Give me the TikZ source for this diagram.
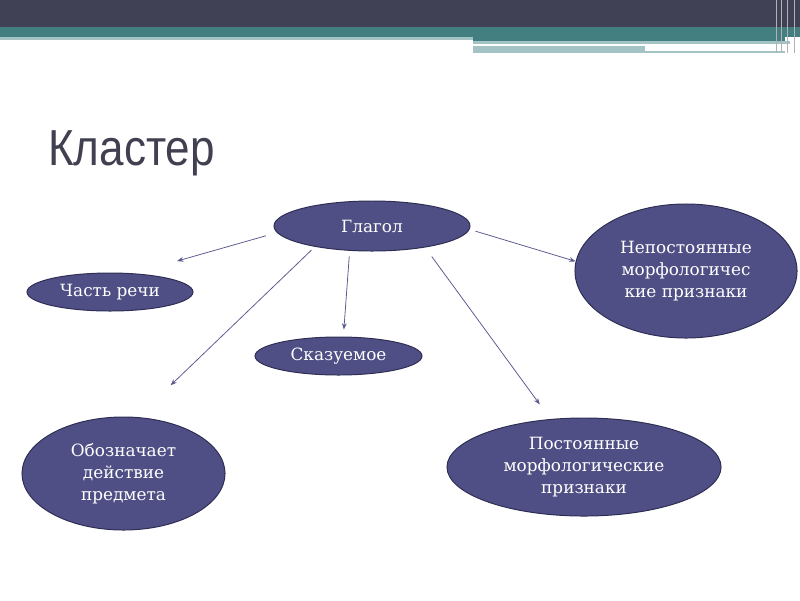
\documentclass[tikz,border=0pt]{standalone}
\usepackage{fontspec}
\setmainfont{DejaVu Serif}
\newfontfamily\titlefont{Liberation Sans}
\usepackage{graphicx}
\usepackage{tikz}
\usetikzlibrary{arrows.meta,positioning,shapes.geometric}
\definecolor{bardark}{HTML}{414155}
\definecolor{barteal}{HTML}{437E80}
\definecolor{barlight}{HTML}{A4C3C5}
\definecolor{ovalfill}{HTML}{4F4F85}
\definecolor{ovalline}{HTML}{2E2E55}
\definecolor{arrowc}{HTML}{5A5A90}
\definecolor{titlec}{HTML}{404050}

\begin{document}
\begin{tikzpicture}[
  x=0.025cm, y=-0.025cm,
  oval/.style={ellipse, draw=ovalline, line width=0.7pt, fill=ovalfill,
               text=white, inner sep=0pt, align=center,
               font=\fontsize{12}{15.6}\selectfont},
  arr/.style={-{Stealth[length=1.6mm, width=1.2mm]}, line width=0.55pt, color=arrowc}
]
\useasboundingbox (0,0) rectangle (800,600);
\fill[bardark] (0,0) rectangle (800,27);
\fill[barteal] (0,27) rectangle (800,37);
\fill[barlight] (0,37) rectangle (473,40);
\fill[barteal] (473,37) rectangle (785,41);
\fill[barlight] (473,41) rectangle (790,44);
\fill[white] (473,44) rectangle (740,46);
\fill[barlight] (473,46) rectangle (645,53);
\fill[barlight] (645,51) rectangle (785,53);
\foreach \xx in {776,781,787,794}
  \draw[gray!60, line width=0.6pt] (\xx,0) -- (\xx,53);

\node[anchor=base west, inner sep=0pt, text=titlec,
      font=\titlefont\fontsize{36}{40}\selectfont] (title) at (48,165)
  {\scalebox{0.87}[1]{Кластер}};

\node[oval, minimum width=4.9cm, minimum height=1.25cm] (glagol) at (372,226) {Глагол};
\node[oval, minimum width=4.15cm, minimum height=0.95cm] (chast) at (110,292) {Часть речи};
\node[oval, minimum width=4.175cm, minimum height=0.95cm] (skaz) at (338.5,356) {Сказуемое};
\node[oval, minimum width=5.55cm, minimum height=3.35cm] (nepost) at (686,271)
  {Непостоянные\\морфологичес\\кие признаки};
\node[oval, minimum width=5.075cm, minimum height=2.825cm] (oboz) at (123.5,473.5)
  {Обозначает\\действие\\предмета};
\node[oval, minimum width=6.85cm, minimum height=2.45cm] (post) at (584,467)
  {Постоянные\\морфологические\\признаки};

\draw[arr, shorten <=0.285cm, shorten >=1.12cm] (glagol.184.9) -- (chast.38.7);
\draw[arr, shorten <=0.14cm, shorten >=0.175cm] (glagol.228.6) -- (skaz.76.4);
\draw[arr, shorten <=0.12cm, shorten >=1.145cm] (glagol.200.4) -- (oboz.76.6);
\draw[arr, shorten <=0.28cm, shorten >=0.45cm] (glagol.338.6) -- (post.125.2);
\draw[arr, shorten <=0.15cm] (glagol.358.1) -- (nepost.175.4);
\end{tikzpicture}
\end{document}
